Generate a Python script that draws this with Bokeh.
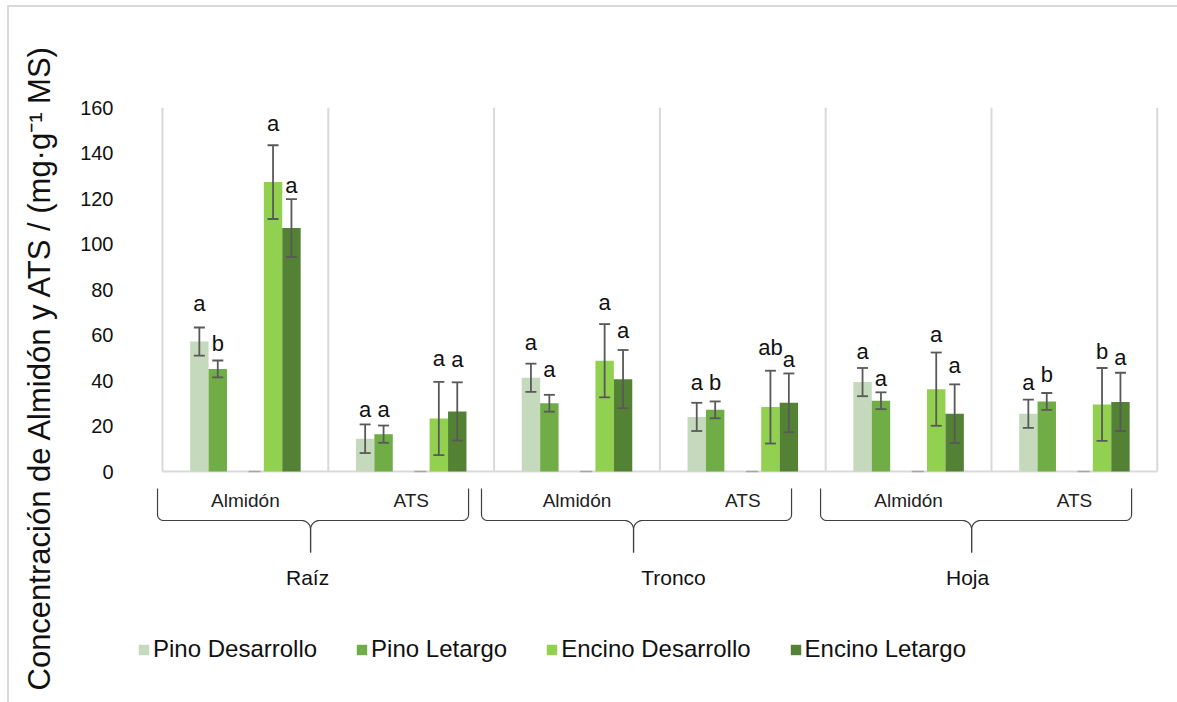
import numpy as np
from bokeh.plotting import figure
from bokeh.models import ColumnDataSource, Range1d, FixedTicker, Legend, LegendItem, Title
from bokeh.core.properties import value
from bokeh.embed import file_html
from bokeh.resources import INLINE

# ---------------------------------------------------------------- data
organs = ["Raíz", "Tronco", "Hoja"]
compounds = ["Almidón", "ATS"]
series_names = ["Pino Desarrollo", "Pino Letargo", "Encino Desarrollo", "Encino Letargo"]

# one value per panel: Raíz-Almidón, Raíz-ATS, Tronco-Almidón, Tronco-ATS, Hoja-Almidón, Hoja-ATS
pino_desarrollo = [57.1, 14.4, 41.2, 24.0, 39.3, 25.4]
pino_letargo = [45.1, 16.4, 30.0, 27.1, 31.1, 30.8]
encino_desarrollo = [127.2, 23.3, 48.7, 28.3, 36.2, 29.5]
encino_letargo = [107.0, 26.4, 40.6, 30.2, 25.4, 30.6]
sin_dato = [0, 0, 0, 0, 0, 0]

err_pino_desarrollo = [6.2, 6.3, 6.2, 6.2, 6.2, 6.2]
err_pino_letargo = [3.7, 3.8, 3.7, 3.7, 3.7, 3.7]
err_encino_desarrollo = [16.2, 16.1, 16.1, 16.0, 16.1, 16.0]
err_encino_letargo = [12.7, 12.8, 12.8, 12.9, 12.9, 12.8]

letras_pino_desarrollo = ["a", "a", "a", "a", "a", "a"]
letras_pino_letargo = ["b", "a", "a", "b", "a", "b"]
letras_encino_desarrollo = ["a", "a", "a", "ab", "a", "b"]
letras_encino_letargo = ["a", "a", "a", "a", "a", "a"]

y_ticks = [0, 20, 40, 60, 80, 100, 120, 140, 160]

# ---------------------------------------------------------------- styling
colors = ["#c5d9bc", "#70ad47", "#92d050", "#548235"]
FONT = "Liberation Sans"
# screen lift (px) of each significance letter above its error bar
letter_lift = [
    [24, 15, 21, 20, 16, 17],
    [17, 16, 25, 19, 14, 19],
    [22, 23, 22, 23, 18, 16],
    [14, 23, 20, 14, 19, 15],
]
# brace geometry per organ, in panel units relative to the organ's first panel
brace_left = [-0.030, -0.076, -0.031]
brace_tip = [0.893, 0.841, 0.880]
brace_right = [1.846, 1.794, 1.845]
organ_label_pos = [0.875, 1.082, 0.856]

W, H = 1177, 702
PW = 165.8                      # px per panel
KY = 2.275                      # px per value unit
MB_L, MB_R, MB_T, MB_B = 137, 15, 107, 0
FRAME_W = W - MB_L - MB_R
FRAME_H = H - MB_T - MB_B
X0 = -25 / PW
X1 = X0 + FRAME_W / PW
Y1 = 160
Y0 = Y1 - FRAME_H / KY

p = figure(width=W, height=H, x_range=Range1d(X0, X1), y_range=Range1d(Y0, Y1),
           output_backend="svg", toolbar_location=None,
           min_border_left=MB_L, min_border_right=MB_R,
           min_border_top=MB_T, min_border_bottom=MB_B,
           background_fill_color="white", border_fill_color=None)
# thin light lines along the top and left edges of the chart area
p.styles = {"background":
            "linear-gradient(#d9d9d9, #d9d9d9) 7px 5px / 2px 100% no-repeat, "
            "linear-gradient(#d9d9d9, #d9d9d9) 7px 5px / 100% 2px no-repeat, white"}
p.outline_line_color = None
p.grid.visible = False
p.xaxis.visible = False

yax = p.yaxis[0]
yax.ticker = FixedTicker(ticks=y_ticks)
yax.axis_line_color = None
yax.major_tick_line_color = None
yax.minor_tick_line_color = None
yax.major_tick_out = 0
yax.major_tick_in = 0
yax.major_label_standoff = 24
yax.major_label_text_font = FONT
yax.major_label_text_font_size = "20px"
yax.major_label_text_color = "#111111"

# value-axis title, read bottom to top
p.add_layout(Title(text="Concentración de Almidón y ATS / (mg·g⁻¹ MS)",
                   align="left", offset=12, vertical_align="middle", standoff=40,
                   text_font=FONT, text_font_size="31px", text_font_style="normal",
                   text_color="#111111"), "left")

n_panels = len(organs) * len(compounds)
panels = np.arange(n_panels)

# panel separators and base line
bounds = np.arange(n_panels + 1)
p.segment(x0=bounds, y0=0, x1=bounds, y1=y_ticks[-1], line_color="#d9d9d9", line_width=2)
p.segment(x0=[0], y0=[0], x1=[n_panels], y1=[0], line_color="#d9d9d9", line_width=2)

# bars: 9 slot widths per panel, series in slots 0,1,4,5 after a 1.5 slot margin
SLOT = 1 / 9
slot_index = [0, 1, 4, 5]
values = [pino_desarrollo, pino_letargo, encino_desarrollo, encino_letargo]
errors = [err_pino_desarrollo, err_pino_letargo, err_encino_desarrollo, err_encino_letargo]
letters = [letras_pino_desarrollo, letras_pino_letargo, letras_encino_desarrollo, letras_encino_letargo]

# empty series between the two species
p.vbar(x=panels + (1.5 + 3 + 0.5) * SLOT, top=sin_dato, bottom=0, width=12 / PW,
       fill_color="#a6a6a6", line_color="#a6a6a6", line_width=1.5)

legend_items = []
for k in range(4):
    xs = panels + (1.5 + slot_index[k] + 0.5) * SLOT
    v = np.array(values[k], dtype=float)
    e = np.array(errors[k], dtype=float)
    src = ColumnDataSource(dict(x=xs, top=v, up=v + e, lo=v - e,
                                txt=letters[k], lift=[-l for l in letter_lift[k]]))
    r = p.vbar(x="x", top="top", bottom=0, width=SLOT, source=src,
               fill_color=colors[k], line_color=None)
    legend_items.append(LegendItem(label=series_names[k], renderers=[r]))
    p.segment(x0="x", y0="lo", x1="x", y1="up", source=src, line_color="#595959", line_width=1.8)
    p.scatter(x="x", y="up", source=src, marker="dash", size=11, line_color="#595959", line_width=1.8)
    p.scatter(x="x", y="lo", source=src, marker="dash", size=11, line_color="#595959", line_width=1.8)
    p.text(x="x", y="up", text="txt", y_offset="lift", source=src,
           text_align="center", text_baseline="middle",
           text_font=value(FONT), text_font_size="22px", text_color="#111111")

# compound labels under each panel
p.text(x=panels + 0.5, y=[0] * n_panels, text=compounds * len(organs), y_offset=29,
       text_align="center", text_baseline="middle",
       text_font=value(FONT), text_font_size="19px", text_color="#222222")

# organ braces and labels
def drop(px):
    return -px / KY

TOP, MID, TIP = 17, 49, 81
for g in range(len(organs)):
    base = g * len(compounds)
    L, T, R = base + brace_left[g], base + brace_tip[g], base + brace_right[g]
    re_x, re_y = 6 / PW, 6      # end corners
    rs_x, rs_y = 9 / PW, 9      # shoulder corners
    th = np.linspace(0, np.pi / 2, 12)
    lx = [L, L]
    ly = [TOP, MID - re_y]
    lx += list(L + re_x - re_x * np.cos(th)); ly += list(MID - re_y + re_y * np.sin(th))
    lx += list(T - rs_x + rs_x * np.sin(th)); ly += list(MID + rs_y - rs_y * np.cos(th))
    lx += [T]; ly += [TIP]
    rx = [T, T]
    ry = [TIP, MID + rs_y]
    rx += list(T + rs_x - rs_x * np.cos(th)); ry += list(MID + rs_y - rs_y * np.sin(th))
    rx += list(R - re_x + re_x * np.sin(th)); ry += list(MID - re_y + re_y * np.cos(th))
    rx += [R]; ry += [TOP]
    p.multi_line(xs=[lx, rx], ys=[[drop(v) for v in ly], [drop(v) for v in ry]],
                 line_color="#404040", line_width=1.2)

p.text(x=[g * len(compounds) + organ_label_pos[g] for g in range(len(organs))],
       y=[0] * len(organs), text=organs, y_offset=106,
       text_align="center", text_baseline="middle",
       text_font=value(FONT), text_font_size="21px", text_color="#111111")

legend = Legend(items=legend_items, orientation="horizontal", location=(0, 39),
                label_text_font=FONT, label_text_font_size="24px", label_text_color="#111111",
                glyph_width=13, glyph_height=13, label_standoff=3, spacing=38,
                padding=0, margin=0, border_line_color=None, background_fill_alpha=0)
p.add_layout(legend)

open("out.html", "w").write(file_html(p, INLINE))
